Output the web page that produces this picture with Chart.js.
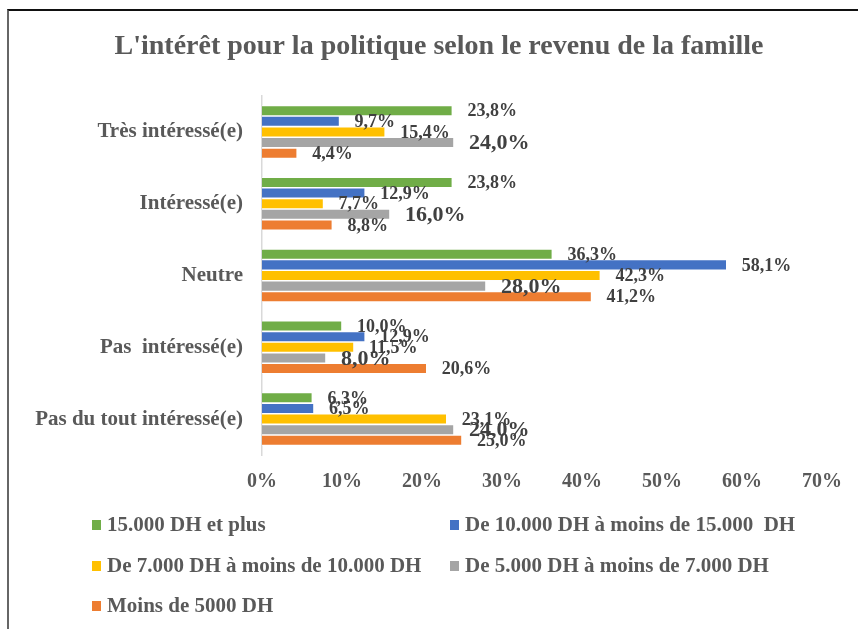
<!DOCTYPE html>
<html>
<head>
<meta charset="utf-8">
<script src="https://cdn.jsdelivr.net/npm/chart.js@4.4.0/dist/chart.umd.min.js"></script>
<style>
  html, body { margin: 0; padding: 0; background: #fff; }
  #wrap { position: relative; width: 858px; height: 629px; }
  #frame { position: absolute; left: 7px; top: 9px; width: 860px; height: 640px;
           border-top: 2px solid #111; border-left: 2px solid #666; box-sizing: border-box; }
  canvas { position: absolute; left: 0; top: 0; }
</style>
</head>
<body>
<div id="wrap">
  <div id="frame"></div>
  <canvas id="c" width="858" height="629"></canvas>
</div>
<script>
const chartTitle = "L'intérêt pour la politique selon le revenu de la famille";
const categories = ["Très intéressé(e)", "Intéressé(e)", "Neutre", "Pas  intéressé(e)", "Pas du tout intéressé(e)"];
const seriesNames = ["15.000 DH et plus", "De 10.000 DH à moins de 15.000  DH", "De 7.000 DH à moins de 10.000 DH", "De 5.000 DH à moins de 7.000 DH", "Moins de 5000 DH"];
const s15000plus = [23.8, 23.8, 36.3, 10.0, 6.3];
const s10000to15000 = [9.7, 12.9, 58.1, 12.9, 6.5];
const s7000to10000 = [15.4, 7.7, 42.3, 11.5, 23.1];
const s5000to7000 = [24.0, 16.0, 28.0, 8.0, 24.0];
const sUnder5000 = [4.4, 8.8, 41.2, 20.6, 25.0];
const xTicks = [0, 10, 20, 30, 40, 50, 60, 70];

const colors = ["#70AD47", "#4472C4", "#FFC000", "#A5A5A5", "#ED7D31"];
const seriesValues = [s15000plus, s10000to15000, s7000to10000, s5000to7000, sUnder5000];
const SERIF = "'Liberation Serif', 'Times New Roman', serif";

const datasets = seriesValues.map((vals, i) => ({
  label: seriesNames[i],
  data: vals,
  backgroundColor: colors[i],
  borderColor: "#ffffff",
  borderWidth: 0.8,
  borderSkipped: "start",
  categoryPercentage: 0.74,
  barPercentage: 1.0
}));

const titlePlugin = {
  id: "titlePlugin",
  afterDraw(chart) {
    const ctx = chart.ctx;
    ctx.save();
    ctx.font = "bold 28px " + SERIF;
    ctx.fillStyle = "#595959";
    ctx.textAlign = "center";
    ctx.textBaseline = "middle";
    ctx.fillText(chartTitle, 439, 47);
    ctx.restore();
  }
};

const valueLabels = {
  id: "valueLabels",
  afterDatasetsDraw(chart) {
    const ctx = chart.ctx;
    ctx.save();
    ctx.fillStyle = "#404040";
    ctx.textBaseline = "middle";
    ctx.textAlign = "left";
    chart.data.datasets.forEach((ds, di) => {
      const meta = chart.getDatasetMeta(di);
      const size = di === 3 ? 22 : 18;
      ctx.font = "bold " + size + "px " + SERIF;
      meta.data.forEach((bar, i) => {
        const txt = ds.data[i].toFixed(1).replace(".", ",") + "%";
        ctx.fillText(txt, bar.x + 15, bar.y + 1);
      });
    });
    ctx.restore();
  }
};

const customLegend = {
  id: "customLegend",
  afterDraw(chart) {
    const ctx = chart.ctx;
    ctx.save();
    ctx.font = "bold 21px " + SERIF;
    ctx.textBaseline = "middle";
    const colX = [92, 450];
    const rowY = [525, 566, 606];
    chart.data.datasets.forEach((ds, i) => {
      const x = colX[i % 2];
      const y = rowY[Math.floor(i / 2)];
      ctx.fillStyle = ds.backgroundColor;
      ctx.fillRect(x, y - 5, 9, 10);
      ctx.fillStyle = "#595959";
      ctx.fillText(ds.label, x + 15, y + 1);
    });
    ctx.restore();
  }
};

new Chart(document.getElementById("c"), {
  type: "bar",
  data: { labels: categories, datasets },
  options: {
    responsive: false,
    animation: false,
    indexAxis: "y",
    layout: { padding: { left: 10, right: 36, top: 96, bottom: 120 } },
    plugins: {
      legend: { display: false },
      tooltip: { enabled: false },
      title: { display: false }
    },
    scales: {
      x: {
        min: 0, max: 70,
        afterBuildTicks(scale) { scale.ticks = xTicks.map(v => ({ value: v })); },
        ticks: {
          callback: v => v + "%",
          color: "#595959",
          font: { family: SERIF, size: 20, weight: "bold" },
          padding: 7,
          maxRotation: 0
        },
        grid: { display: false },
        border: { display: false },
        afterFit(scale) { scale.height = 54; }
      },
      y: {
        ticks: {
          color: "#595959",
          font: { family: SERIF, size: 21, weight: "bold" },
          padding: 11
        },
        grid: { display: false },
        border: { display: true, color: "#D9D9D9", width: 1.5 },
        afterFit(scale) { scale.width = 252; }
      }
    }
  },
  plugins: [titlePlugin, valueLabels, customLegend]
});
</script>
</body>
</html>
